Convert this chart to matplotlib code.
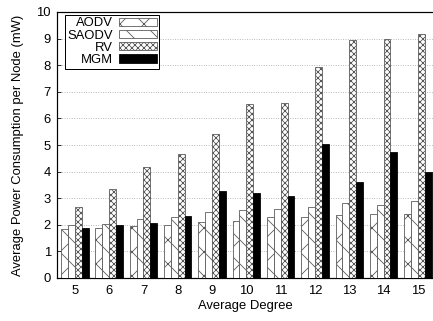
import numpy as np
import matplotlib
matplotlib.use('Agg')
import matplotlib.pyplot as plt

plt.rcParams['font.family'] = ['Liberation Sans', 'DejaVu Sans']
plt.rcParams['hatch.linewidth'] = 0.8

degrees = [5, 6, 7, 8, 9, 10, 11, 12, 13, 14, 15]
aodv = [1.84, 1.87, 1.95, 1.98, 2.12, 2.16, 2.30, 2.29, 2.37, 2.40, 2.40]
saodv = [1.98, 2.03, 2.21, 2.31, 2.48, 2.55, 2.59, 2.66, 2.82, 2.74, 2.88]
rv = [2.67, 3.35, 4.18, 4.66, 5.43, 6.54, 6.58, 7.95, 8.93, 9.00, 9.18]
mgm = [1.88, 2.00, 2.08, 2.34, 3.28, 3.21, 3.08, 5.03, 3.62, 4.75, 3.99]

series = [('AODV', aodv, 'x', 'white'),
          ('SAODV', saodv, '\\', 'white'),
          ('RV', rv, 'xxxx', 'white'),
          ('MGM', mgm, None, 'black')]

dpi = 72
fs = 13
fig = plt.figure(figsize=(433 / dpi, 321 / dpi), dpi=dpi)
ax = fig.add_axes([57 / 433, 1 - 278 / 321, 377 / 433, 266 / 321])

x = np.array(degrees, dtype=float)
w = 0.2
for i, (name, vals, hatch, fc) in enumerate(series):
    ax.bar(x + (i - 1.5) * w, vals, w, label=name, color=fc, hatch=hatch,
           edgecolor='#555555' if fc == 'white' else 'black', linewidth=0.8, zorder=3)

ax.set_xlim(4.48, 15.47)
ax.set_ylim(0, 10)
ax.set_xticks(degrees)
ax.set_yticks(range(0, 11))
ax.tick_params(axis='y', direction='in', length=4, labelsize=fs, pad=6)
ax.tick_params(axis='x', length=0, labelsize=fs, pad=7)
ax.grid(axis='y', linestyle=(0, (1, 2)), color='#999999', linewidth=0.8, zorder=0)
ax.set_axisbelow(True)
for s in ax.spines.values():
    s.set_linewidth(1.2)

ax.set_xlabel('Average Degree', fontsize=fs, labelpad=3)
ax.set_ylabel('Average Power Consumption per Node (mW)', fontsize=fs, labelpad=12)

leg = ax.legend(loc='upper left', bbox_to_anchor=(0.02, 0.99), markerfirst=False,
                fancybox=False, framealpha=1, edgecolor='black', fontsize=fs,
                handlelength=2.9, handleheight=0.6, handletextpad=0.5,
                labelspacing=0.02, borderpad=0.2, borderaxespad=0)
leg.get_frame().set_linewidth(1.0)

fig.savefig('out.png', dpi=dpi)
